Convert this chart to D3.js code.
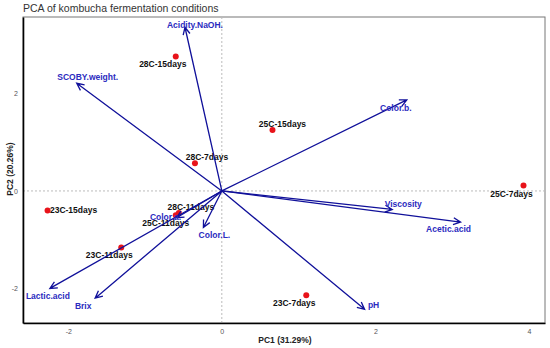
<!DOCTYPE html>
<html>
<head>
<meta charset="utf-8">
<script src="https://cdn.jsdelivr.net/npm/d3@7"></script>
<style>
  body { margin: 0; background: #fff; }
  svg { font-family: "Liberation Sans", Arial, sans-serif; }
</style>
</head>
<body>
<script>
// sample scores (PC1, PC2)
var samples = ["28C-15days", "25C-15days", "28C-7days", "25C-7days", "23C-15days",
  "28C-11days", "25C-11days", "23C-11days", "23C-7days"];
var pc1 = [-0.60, 0.66, -0.35, 3.93, -2.27, -0.56, -0.60, -1.31, 1.10];
var pc2 = [2.76, 1.25, 0.57, 0.11, -0.40, -0.45, -0.50, -1.16, -2.14];

// variable loadings (arrows)
var variables = ["Acidity.NaOH.", "SCOBY.weight.", "Color.b.", "Viscosity", "Acetic.acid",
  "pH", "Lactic.acid", "Brix", "Color.L.", "Color.a."];
var load1 = [-0.48, -1.89, 2.41, 2.22, 3.11, 1.86, -2.24, -1.65, -0.24, -0.59];
var load2 = [3.36, 2.21, 1.87, -0.38, -0.64, -2.43, -2.00, -2.20, -0.75, -0.55];

var xTicks = [-2, 0, 2, 4];
var yTicks = [-2, 0, 2];

// label nudges in px (layout only)
var sampleNudge = {
  "28C-15days": [-13, 8], "25C-15days": [10, -6], "28C-7days": [12, -6],
  "25C-7days": [-12, 8], "23C-15days": [26, 0], "28C-11days": [12, -6],
  "25C-11days": [-10, 8], "23C-11days": [-12, 8], "23C-7days": [-12, 8]
};
var varNudge = {
  "Acidity.NaOH.": [10, -2], "SCOBY.weight.": [11, -6], "Color.b.": [-11, 8],
  "Viscosity": [11, -5], "Acetic.acid": [-12, 7], "pH": [9, -4],
  "Lactic.acid": [-2, 8], "Brix": [-12, 8], "Color.L.": [11, 8], "Color.a.": [-11, -1]
};

var w = 550, h = 348;
var mLeft = 23, mRight = 545, mTop = 17, mBottom = 323;

var svg = d3.select("body").append("svg").attr("width", w).attr("height", h);

var x = d3.scaleLinear().domain([-2.59, 4.21]).range([mLeft, mRight]);
var y = d3.scaleLinear().domain([-2.71, 3.57]).range([mBottom, mTop]);

// title
svg.append("text").attr("x", 23).attr("y", 12)
  .attr("font-size", 10.5).attr("fill", "#333")
  .text("PCA of kombucha fermentation conditions");

// panel border
svg.append("rect").attr("x", mLeft).attr("y", mTop)
  .attr("width", mRight - mLeft).attr("height", mBottom - mTop)
  .attr("fill", "none").attr("stroke", "#777").attr("stroke-width", 1);

// zero reference lines
svg.append("line").attr("x1", x(0)).attr("x2", x(0)).attr("y1", mTop).attr("y2", mBottom)
  .attr("stroke", "#bbb").attr("stroke-dasharray", "2,2");
svg.append("line").attr("x1", mLeft).attr("x2", mRight).attr("y1", y(0)).attr("y2", y(0))
  .attr("stroke", "#bbb").attr("stroke-dasharray", "2,2");

// axes (left & bottom black lines, labels without ticks)
var fmt = function (d) { return String(d); };
var xAxis = d3.axisBottom(x).tickValues(xTicks).tickFormat(fmt).tickSize(0).tickPadding(6);
var gx = svg.append("g").attr("transform", "translate(0," + mBottom + ")").call(xAxis);
var yAxis = d3.axisLeft(y).tickValues(yTicks).tickFormat(fmt).tickSize(0).tickPadding(5);
var gy = svg.append("g").attr("transform", "translate(" + mLeft + ",0)").call(yAxis);
[gx, gy].forEach(function (g) {
  g.select(".domain").attr("stroke", "#000").attr("stroke-width", 1.6);
  g.selectAll("text").attr("font-size", 7).attr("fill", "#555")
    .attr("font-family", "Liberation Sans, Arial, sans-serif");
});

// axis titles
svg.append("text").attr("x", 285).attr("y", 343).attr("text-anchor", "middle")
  .attr("font-size", 8.5).attr("font-weight", "bold").attr("fill", "#222")
  .text("PC1 (31.29%)");
svg.append("text").attr("transform", "translate(10," + 169 + ") rotate(-90)")
  .attr("text-anchor", "middle").attr("dy", "0.35em")
  .attr("font-size", 8.5).attr("font-weight", "bold").attr("fill", "#222")
  .text("PC2 (20.26%)");

// points
var pts = samples.map(function (s, i) { return { name: s, x: pc1[i], y: pc2[i] }; });
svg.selectAll(".pt").data(pts).enter().append("circle")
  .attr("cx", function (d) { return x(d.x); })
  .attr("cy", function (d) { return y(d.y); })
  .attr("r", 3).attr("fill", "#e8131a");

svg.selectAll(".ptlab").data(pts).enter().append("text")
  .attr("x", function (d) { return x(d.x) + sampleNudge[d.name][0]; })
  .attr("y", function (d) { return y(d.y) + sampleNudge[d.name][1]; })
  .attr("dy", "0.35em").attr("text-anchor", "middle")
  .attr("font-size", 8.5).attr("font-weight", "bold").attr("fill", "#111")
  .text(function (d) { return d.name; });

// loading arrows
var arrows = variables.map(function (v, i) { return { name: v, x: load1[i], y: load2[i] }; });
var arrowColor = "#10109a";
var ox = x(0), oy = y(0);

svg.selectAll(".arr").data(arrows).enter().append("path")
  .attr("fill", "none").attr("stroke", arrowColor).attr("stroke-width", 1.3)
  .attr("d", function (d) {
    var tx = x(d.x), ty = y(d.y);
    var ang = Math.atan2(ty - oy, tx - ox), len = 8, spread = Math.PI / 7;
    var p = d3.path();
    p.moveTo(ox, oy); p.lineTo(tx, ty);
    p.moveTo(tx - len * Math.cos(ang - spread), ty - len * Math.sin(ang - spread));
    p.lineTo(tx, ty);
    p.lineTo(tx - len * Math.cos(ang + spread), ty - len * Math.sin(ang + spread));
    return p.toString();
  });

svg.selectAll(".arrlab").data(arrows).enter().append("text")
  .attr("x", function (d) { return x(d.x) + varNudge[d.name][0]; })
  .attr("y", function (d) { return y(d.y) + varNudge[d.name][1]; })
  .attr("dy", "0.35em").attr("text-anchor", "middle")
  .attr("font-size", 8.5).attr("font-weight", "bold").attr("fill", "#2b2bc0")
  .text(function (d) { return d.name; });
</script>
</body>
</html>
